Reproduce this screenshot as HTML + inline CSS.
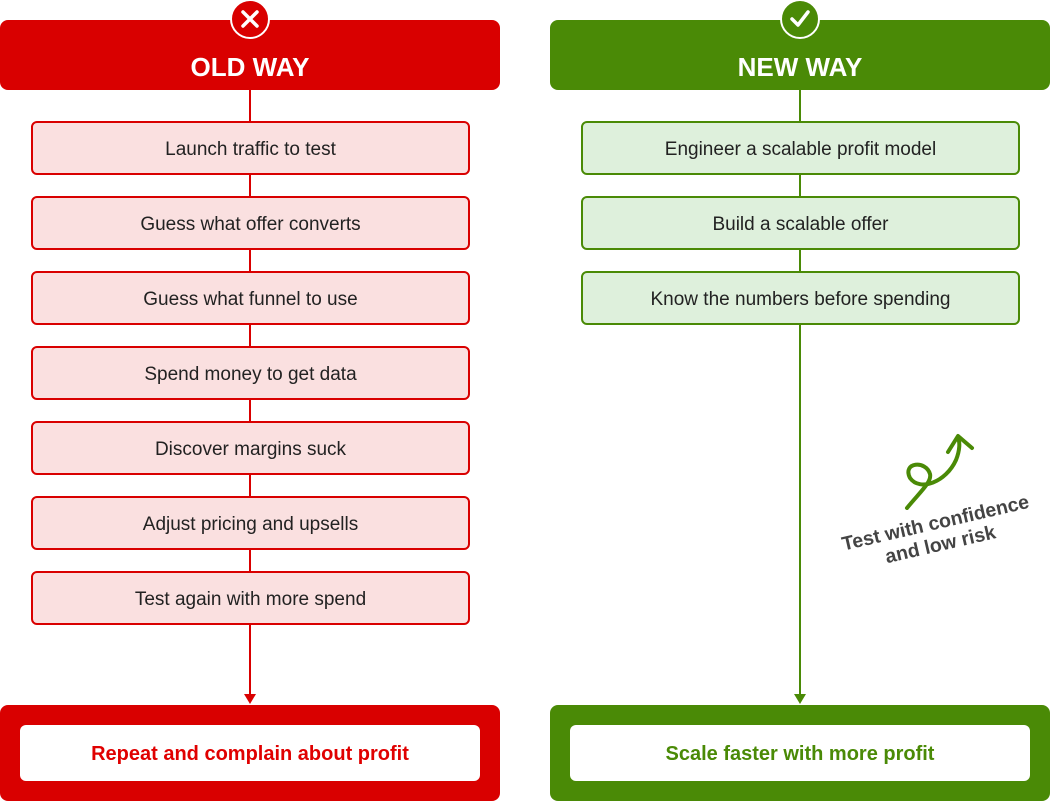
<!DOCTYPE html>
<html><head><style>
body{margin:0;width:1050px;height:801px;background:#fff;position:relative;overflow:hidden;font-family:"Liberation Sans",sans-serif}
.a{position:absolute}
.hdr{height:70px;top:20px;width:500px;border-radius:8px;color:#fff;font-weight:bold;font-size:26px;text-align:center;line-height:94px}
.box{width:435px;height:50px;border-radius:6px;text-align:center;line-height:54px;font-size:19px;color:#222}
.r{background:#fae0e0;border:2px solid #d90000}
.g{background:#def0dc;border:2px solid #4a8a06}
.bot{top:705px;height:96px;width:500px;border-radius:8px}
.in{top:20px;left:20px;width:460px;height:56px;background:#fff;border-radius:6px;text-align:center;line-height:58px;font-weight:bold;font-size:20px}
</style></head><body>
<div class="a" style="left:249px;top:90px;width:2px;height:606px;background:#d90000"></div>
<div class="a" style="left:799px;top:90px;width:2px;height:606px;background:#4a8a06"></div>
<svg class="a" style="left:0;top:0" width="1050" height="801">
<polygon points="244,694 256,694 250,704" fill="#d90000"/>
<polygon points="794,694 806,694 800,704" fill="#4a8a06"/>
</svg>
<div class="a hdr" style="left:0;background:#d90000">OLD WAY</div>
<div class="a hdr" style="left:550px;background:#4a8a06">NEW WAY</div>
<svg class="a" style="left:0;top:0" width="1050" height="60">
<circle cx="250" cy="19" r="19" fill="#d90000" stroke="#fff" stroke-width="2"/>
<path d="M243,12 L257,26 M257,12 L243,26" stroke="#fff" stroke-width="3.5" stroke-linecap="round"/>
<circle cx="800" cy="19" r="19" fill="#4a8a06" stroke="#fff" stroke-width="2"/>
<path d="M792,19 L798,25 L808,12" stroke="#fff" stroke-width="3.5" fill="none" stroke-linecap="round" stroke-linejoin="round"/>
</svg>
<div class="a box r" style="left:31px;top:121px">Launch traffic to test</div>
<div class="a box r" style="left:31px;top:196px">Guess what offer converts</div>
<div class="a box r" style="left:31px;top:271px">Guess what funnel to use</div>
<div class="a box r" style="left:31px;top:346px">Spend money to get data</div>
<div class="a box r" style="left:31px;top:421px">Discover margins suck</div>
<div class="a box r" style="left:31px;top:496px">Adjust pricing and upsells</div>
<div class="a box r" style="left:31px;top:571px">Test again with more spend</div>
<div class="a box g" style="left:581px;top:121px">Engineer a scalable profit model</div>
<div class="a box g" style="left:581px;top:196px">Build a scalable offer</div>
<div class="a box g" style="left:581px;top:271px">Know the numbers before spending</div>
<div class="a bot" style="left:0;background:#d90000"><div class="a in" style="color:#e00000">Repeat and complain about profit</div></div>
<div class="a bot" style="left:550px;background:#4a8a06"><div class="a in" style="color:#4a8a06">Scale faster with more profit</div></div>
<svg class="a" style="left:880px;top:420px" width="120" height="90">
<path d="M27,88 C40,72 52,62 50,54 C46,40 22,42 30,58 C40,72 66,62 76,40 C80,30 80,22 78,18" stroke="#4a8a06" stroke-width="4" fill="none" stroke-linecap="round"/>
<path d="M68,32 L78,16 L92,28" stroke="#4a8a06" stroke-width="4" fill="none" stroke-linecap="round" stroke-linejoin="round"/>
</svg>
<div class="a" style="left:818px;top:512px;width:240px;text-align:center;font-weight:bold;font-size:19.5px;line-height:22px;color:#444;transform:rotate(-13deg)">Test with confidence<br>and low risk</div>
</body></html>
